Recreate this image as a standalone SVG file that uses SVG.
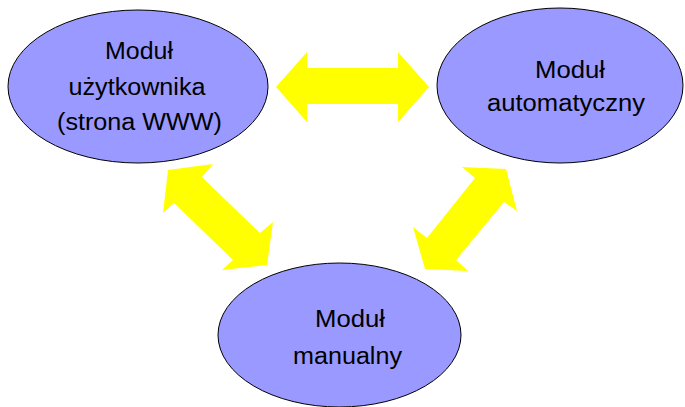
<svg xmlns="http://www.w3.org/2000/svg" width="685" height="407" viewBox="0 0 685 407">
<style>
.node ellipse{fill:#9999ff;stroke:#000;stroke-width:1}
.node text{font-family:"Liberation Sans",Arial,sans-serif;font-size:23px;fill:#000;text-anchor:middle}
.conn polygon{fill:#ffff00;stroke:none}
</style>
<rect width="685" height="407" fill="#fff"/>
<g class="conn" id="connectors">
<polygon points="276,87 307,52 307,68 398,68 398,52 429,87 398,122 398,104 307,104 307,122"/>
<polygon points="168,170 213,164 202,177 260,233 273,222 267,265 222,270 233,260 174,203 163,213"/>
<polygon points="506,169 517,211 504,202 456,260 468,271 425,269 413,227 427,238 475,178 462,167"/>
</g>
<g class="node" id="user">
<ellipse cx="138" cy="86.5" rx="130" ry="76.5"/>
<text x="139" y="59" textLength="68" lengthAdjust="spacingAndGlyphs">Moduł</text>
<text x="137" y="95" textLength="137" lengthAdjust="spacingAndGlyphs">użytkownika</text>
<text x="139.5" y="130" textLength="165" lengthAdjust="spacingAndGlyphs">(strona WWW)</text>
</g>
<g class="node" id="auto">
<ellipse cx="560" cy="85.5" rx="123" ry="77.5"/>
<text x="570" y="78" textLength="70" lengthAdjust="spacingAndGlyphs">Moduł</text>
<text x="566" y="111" textLength="158" lengthAdjust="spacingAndGlyphs">automatyczny</text>
</g>
<g class="node" id="manual">
<ellipse cx="339.5" cy="335" rx="121.5" ry="72"/>
<text x="350" y="327" textLength="70" lengthAdjust="spacingAndGlyphs">Moduł</text>
<text x="347.5" y="364" textLength="109" lengthAdjust="spacingAndGlyphs">manualny</text>
</g>
</svg>
